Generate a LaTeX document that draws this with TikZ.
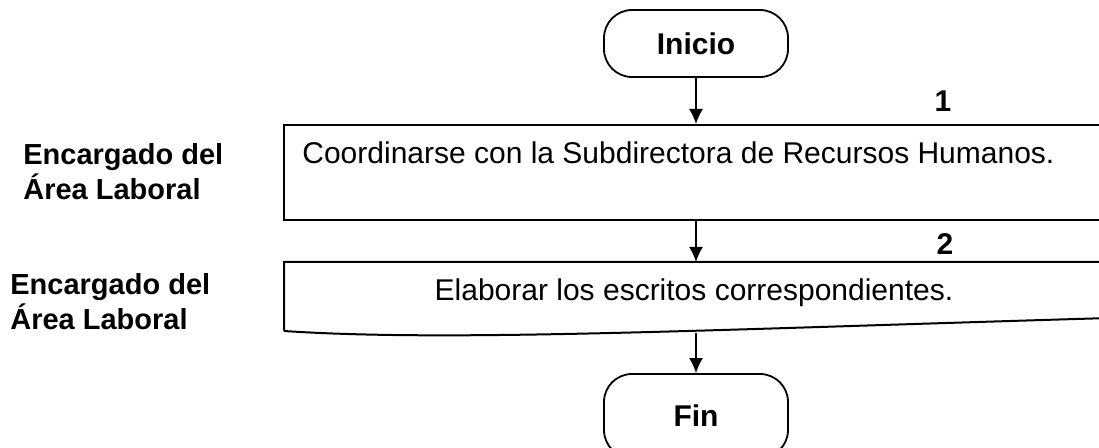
\documentclass[tikz,border=0pt]{standalone}
\usepackage{fontspec}
\setmainfont{Liberation Sans}
\usetikzlibrary{arrows.meta}
\tikzset{
	terminal/.style={draw,line width=0.9pt,rounded corners=14pt,minimum width=92pt,minimum height=33.5pt,font=\bfseries\fontsize{15}{17}\selectfont},
	caja/.style={draw,line width=1pt,minimum width=412pt,minimum height=47.5pt},
	texto/.style={inner sep=0pt,font=\fontsize{15}{17}\selectfont},
	rol/.style={inner sep=0pt,align=left,font=\bfseries\fontsize{14.5}{17.5}\selectfont},
	numero/.style={inner sep=0pt,font=\bfseries\fontsize{15}{17}\selectfont},
	flecha/.style={line width=0.8pt,-{Latex[length=7.5pt,width=7pt]}}
}
\begin{document}
\begin{tikzpicture}[x=0.5pt,y=-0.5pt]
				\clip (0,0) rectangle (1099,448); % Clips the picture...
				
				\node[terminal] (Inicio) at (696,43.5) {Inicio};
				
				% Paso 1
				\node[caja] (Paso1) at (696,172.5) {};
				\node[texto,anchor=base west] (TextoPaso1) at (302,164)
				{Coordinarse con la Subdirectora de Recursos Humanos.};
				\node[numero,anchor=base] (Num1) at (943,112) {1};
				\node[rol,anchor=west] (Rol1) at (23,172) {Encargado del\\Área Laboral};
				
				% Paso 2 (documento, borde inferior ondulado)
				\coordinate (Paso2) at (696,262);
				\coordinate (FondoPaso2) at (696,333);
				\draw[line width=1pt] (284,331) -- (284,262) -- (1110,262) -- (1110,318)
				.. controls (700,330) and (450,342) .. (284,331);
				\node[texto,anchor=base] (TextoPaso2) at (694,301) {Elaborar los escritos correspondientes.};
				\node[numero,anchor=base] (Num2) at (945,255) {2};
				\node[rol,anchor=west] (Rol2) at (10,302) {Encargado del\\Área Laboral};
				
				\node[terminal,minimum height=42pt] (Fin) at (696,416) {Fin};
				
				\draw[flecha] (Inicio.south) -- (Paso1.north);
				\draw[flecha] (Paso1.south) -- (Paso2);
				\draw[flecha] (FondoPaso2) -- (Fin.north);
\end{tikzpicture}
\end{document}
